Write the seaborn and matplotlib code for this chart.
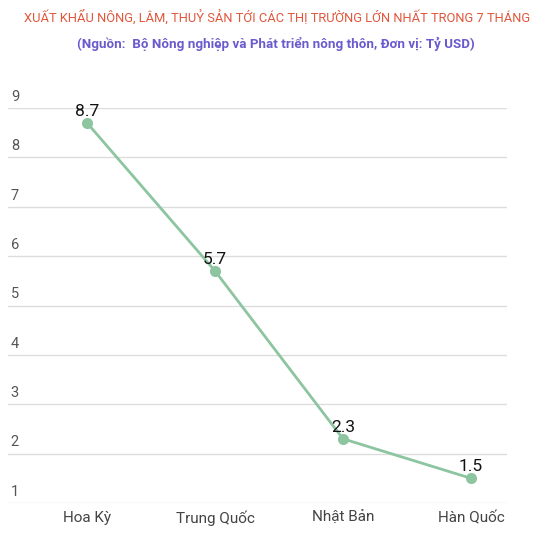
import matplotlib
matplotlib.use("Agg")
import matplotlib.pyplot as plt
import seaborn as sns
import pandas as pd

categories = ["Hoa Kỳ", "Trung Quốc", "Nhật Bản", "Hàn Quốc"]
values = [8.7, 5.7, 2.3, 1.5]
yticks = [1, 2, 3, 4, 5, 6, 7, 8, 9]

sns.set_theme(style="white")
plt.rcParams['font.family'] = ['Roboto', 'DejaVu Sans']

df = pd.DataFrame({"market": categories, "value": values})
df["pos"] = range(len(categories))

W, H = 553, 535
fig = plt.figure(figsize=(W / 100, H / 100), dpi=100)
left, right = 8, 507
top, bottom = 108, 503
ax = fig.add_axes([left / W, 1 - bottom / H, (right - left) / W, (bottom - top) / H])

line_color = "#8cc5a0"
sns.lineplot(data=df, x="pos", y="value", ax=ax, color=line_color, linewidth=2,
             marker="o", markersize=8, markeredgewidth=0, zorder=3)

ax.set_xlim(-0.617, 3.281)
ax.set_ylim(1, 9)
ax.set_yticks(yticks)
ax.yaxis.grid(True, color="#dddddd", linewidth=1)
ax.set_axisbelow(True)
for s in ax.spines.values():
    s.set_visible(False)
ax.set_yticklabels([])
ax.tick_params(left=False, bottom=False)
ax.set_xticks([])
ax.set_xlabel("")
ax.set_ylabel("")

for p, c in zip(df["pos"], categories):
    ax.annotate(c, xy=(p, 0), xycoords=("data", "axes fraction"),
                xytext=(0, -11), textcoords="offset points", ha="center", va="center",
                fontsize=11, color="#444444", annotation_clip=False)

for t in yticks:
    ax.annotate(str(t), xy=(0, t), xycoords=("axes fraction", "data"),
                xytext=(2, 3), textcoords="offset points", ha="left", va="bottom",
                fontsize=10.5, color="#555555")

for p, v in zip(df["pos"], df["value"]):
    ax.annotate(f"{v}", xy=(p, v), xytext=(0, 3), textcoords="offset points",
                ha="center", va="bottom", fontsize=12.5, color="#111111", zorder=5)

fig.text(277 / W, 1 - 18 / H, "XUẤT KHẨU NÔNG, LÂM, THUỶ SẢN TỚI CÁC THỊ TRƯỜNG LỚN NHẤT TRONG 7 THÁNG",
         ha="center", va="center", fontsize=9.3, color="#e0573c")
fig.text(276 / W, 1 - 44 / H, "(Nguồn:  Bộ Nông nghiệp và Phát triển nông thôn, Đơn vị: Tỷ USD)",
         ha="center", va="center", fontsize=9.6, color="#6a5acd", fontweight="bold")

fig.savefig("out.png", dpi=100)
